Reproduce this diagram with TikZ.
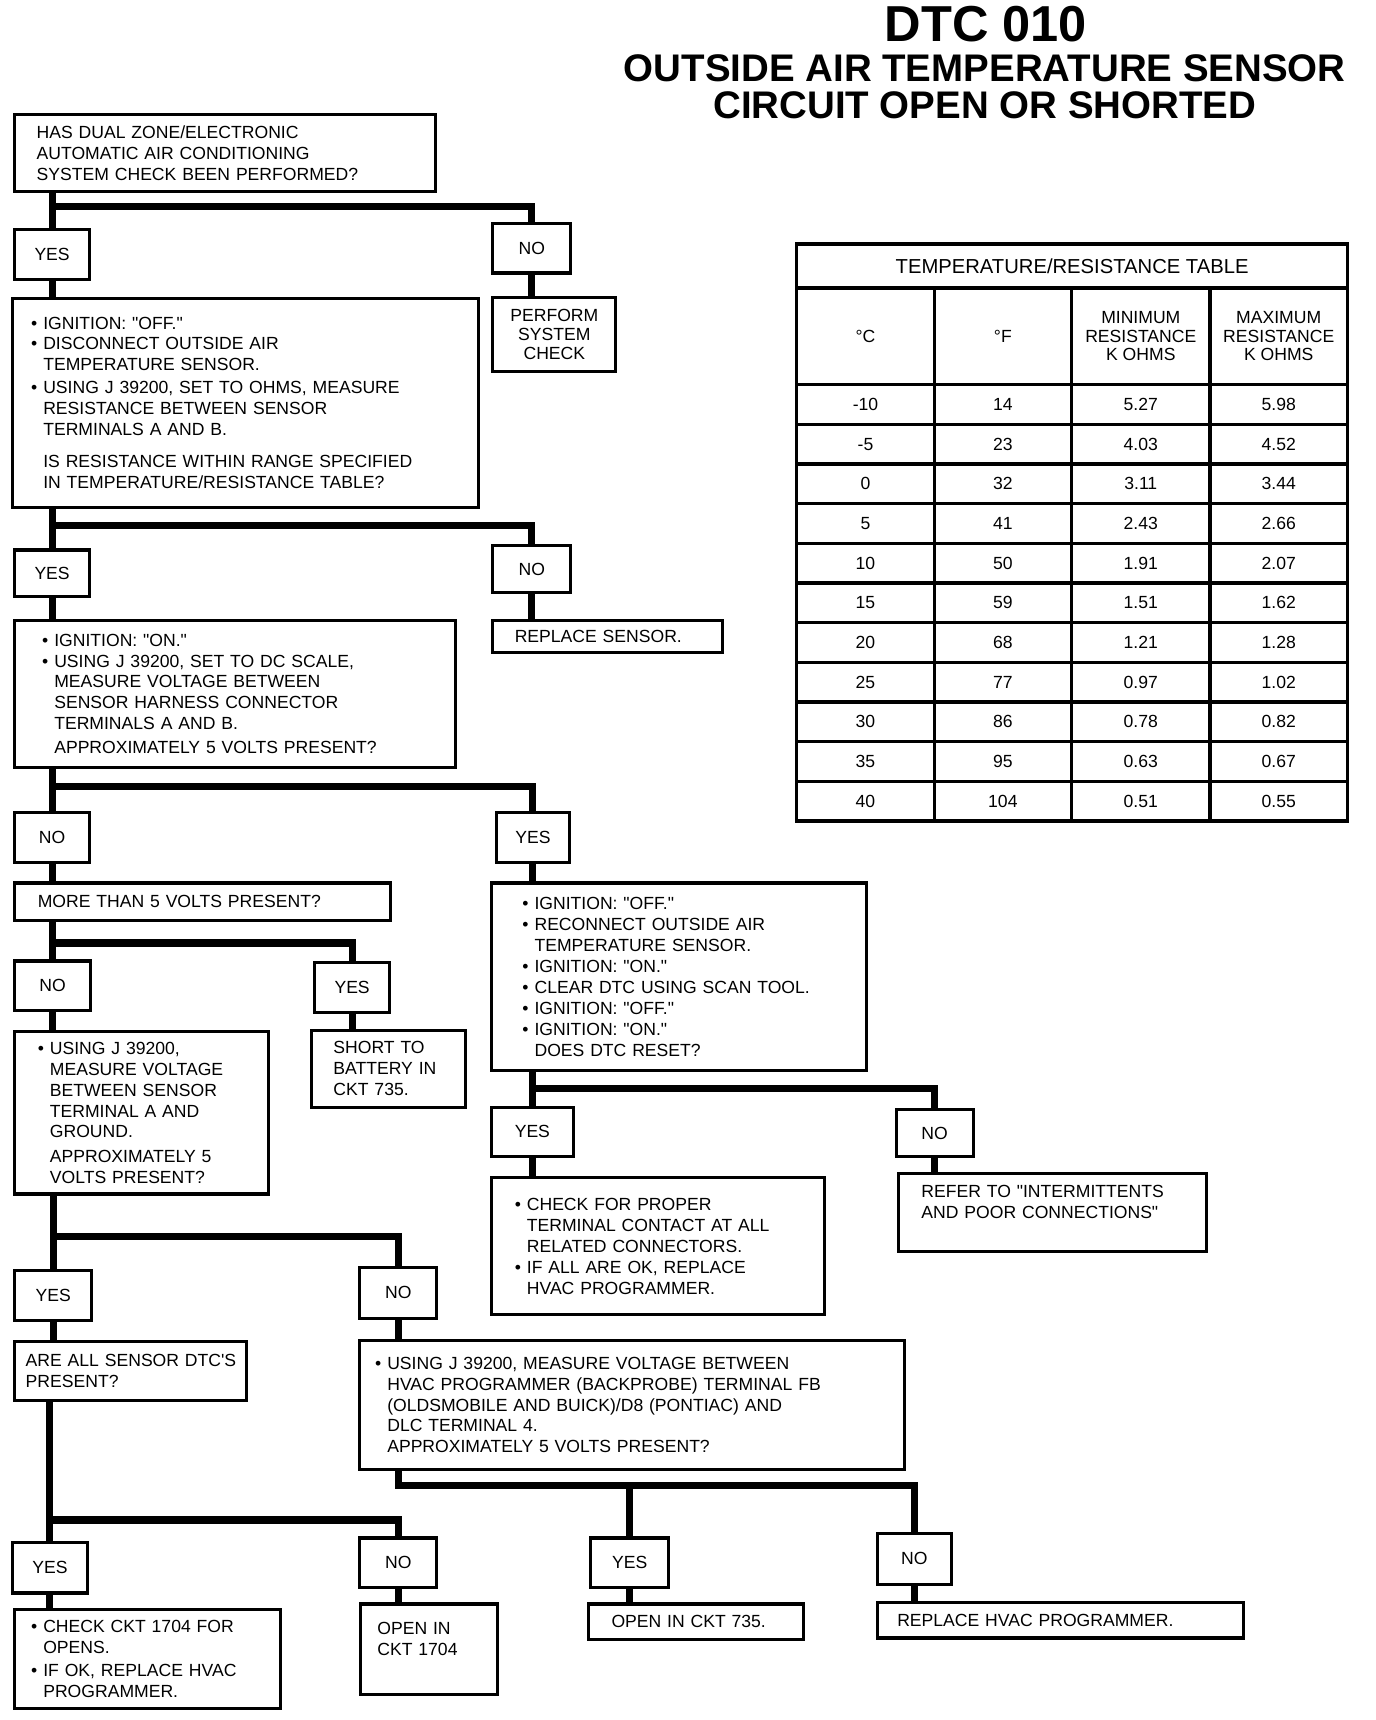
\documentclass[tikz,border=0pt]{standalone}
\usepackage{fontspec}
\setmainfont{Liberation Sans}[Ligatures=TeXOff]
\newcommand{\bul}{\makebox[5.5pt][l]{\textbullet}}
\newcommand{\ind}{\hspace*{5.5pt}}

\begin{document}
\begin{tikzpicture}[x=0.5pt,y=-0.5pt,
  box/.style={draw,line width=1.4pt,anchor=north west,inner sep=0pt,align=left,font=\fontsize{8}{9.5}\selectfont},
  yn/.style={draw,line width=1.4pt,anchor=north west,inner sep=0pt,font=\fontsize{8}{9.5}\selectfont},
  lpad/.style={execute at begin node={\leftskip=#1\relax}},
  flow/.style={line width=3.2pt,line join=miter},
  tline/.style={line width=1.5pt},
  tcell/.style={inner sep=0pt,align=center,font=\fontsize{8}{8.5}\selectfont}]
  \useasboundingbox (0,0) rectangle (1252,1565);

  \node[font=\bfseries\fontsize{23}{23}\selectfont] (dtc) at (897,22) {DTC 010};
  \node[font=\bfseries\fontsize{17.5}{17.5}\selectfont] (ttla) at (896,62) {OUTSIDE AIR TEMPERATURE SENSOR};
  \node[font=\bfseries\fontsize{17.5}{17.5}\selectfont] (ttlb) at (896,96) {CIRCUIT OPEN OR SHORTED};

  \node[box,lpad=10pt,text width=191.5pt,minimum height=35pt] (sysq) at (12,103) {HAS DUAL ZONE/ELECTRONIC\\AUTOMATIC AIR CONDITIONING\\SYSTEM CHECK BEEN PERFORMED?};
  \node[yn,minimum width=34pt,minimum height=23pt] (sysyes) at (12,207) {YES};
  \node[yn,minimum width=35.5pt,minimum height=22.5pt] (sysno) at (447,202) {NO};
  \node[yn,align=center,font=\fontsize{8}{8.5}\selectfont,minimum width=56pt,minimum height=34pt] (perform) at (447,269) {PERFORM\\SYSTEM\\CHECK};
  \node[box,lpad=8.5pt,text width=212pt,minimum height=95pt] (ohmq) at (10,270) {\bul IGNITION: "OFF."\\\bul DISCONNECT OUTSIDE AIR\\\ind TEMPERATURE SENSOR.\\[1pt]\bul USING J 39200, SET TO OHMS, MEASURE\\\ind RESISTANCE BETWEEN SENSOR\\\ind TERMINALS A AND B.\\[5pt]\ind IS RESISTANCE WITHIN RANGE SPECIFIED\\\ind IN TEMPERATURE/RESISTANCE TABLE?};
  \node[yn,minimum width=34pt,minimum height=21pt] (ohmyes) at (12,499) {YES};
  \node[yn,minimum width=35.5pt,minimum height=21.5pt] (ohmno) at (447,495) {NO};
  \node[box,lpad=10pt,text width=104.5pt,minimum height=14.5pt] (replsens) at (447,563) {REPLACE SENSOR.};
  \node[box,lpad=12.5pt,text width=200.5pt,minimum height=67pt] (voltq) at (12,563) {\bul IGNITION: "ON."\\\bul USING J 39200, SET TO DC SCALE,\\\ind MEASURE VOLTAGE BETWEEN\\\ind SENSOR HARNESS CONNECTOR\\\ind TERMINALS A AND B.\\[1.5pt]\ind APPROXIMATELY 5 VOLTS PRESENT?};
  \node[yn,minimum width=34pt,minimum height=22.5pt] (voltno) at (12,738) {NO};
  \node[yn,minimum width=33.5pt,minimum height=22.5pt] (voltyes) at (450,738) {YES};
  \node[box,lpad=10.5pt,text width=171pt,minimum height=17pt] (morev) at (12,802) {MORE THAN 5 VOLTS PRESENT?};
  \node[box,lpad=14pt,text width=170.5pt,minimum height=85.5pt] (reset) at (446,802) {\bul IGNITION: "OFF."\\\bul RECONNECT OUTSIDE AIR\\\ind TEMPERATURE SENSOR.\\\bul IGNITION: "ON."\\\bul CLEAR DTC USING SCAN TOOL.\\\bul IGNITION: "OFF."\\\bul IGNITION: "ON."\\\ind DOES DTC RESET?};
  \node[yn,minimum width=34.5pt,minimum height=22.5pt] (moreno) at (12,873) {NO};
  \node[yn,minimum width=34pt,minimum height=23pt] (moreyes) at (285,874) {YES};
  \node[box,lpad=10pt,text width=70pt,minimum height=35pt] (shortbat) at (282,936) {SHORT TO\\BATTERY IN\\CKT 735.};
  \node[box,lpad=10.5pt,text width=115.5pt,minimum height=74pt] (gndq) at (12,937) {\bul USING J 39200,\\\ind MEASURE VOLTAGE\\\ind BETWEEN SENSOR\\\ind TERMINAL A AND\\\ind GROUND.\\[1.5pt]\ind APPROXIMATELY 5\\\ind VOLTS PRESENT?};
  \node[yn,minimum width=37pt,minimum height=22.5pt] (resetyes) at (446,1006) {YES};
  \node[yn,minimum width=35pt,minimum height=21.5pt] (resetno) at (814,1008) {NO};
  \node[box,lpad=10.5pt,text width=151.5pt,minimum height=62.5pt] (contacts) at (446,1070) {\bul CHECK FOR PROPER\\\ind TERMINAL CONTACT AT ALL\\\ind RELATED CONNECTORS.\\\bul IF ALL ARE OK, REPLACE\\\ind HVAC PROGRAMMER.};
  \node[box,lpad=10.5pt,text width=140pt,minimum height=35.5pt] (intermit) at (816,1066) {REFER TO "INTERMITTENTS\\AND POOR CONNECTIONS"\\~};
  \node[yn,minimum width=35pt,minimum height=22.5pt] (gndyes) at (12,1155) {YES};
  \node[yn,minimum width=35pt,minimum height=23pt] (gndno) at (326,1152) {NO};
  \node[box,lpad=5pt,text width=105.5pt,minimum height=27pt] (alldtc) at (12,1219) {ARE ALL SENSOR DTC'S\\PRESENT?};
  \node[box,lpad=7pt,text width=248pt,minimum height=59pt] (progq) at (326,1218) {\bul USING J 39200, MEASURE VOLTAGE BETWEEN\\\ind HVAC PROGRAMMER (BACKPROBE) TERMINAL FB\\\ind (OLDSMOBILE AND BUICK)/D8 (PONTIAC) AND\\\ind DLC TERMINAL 4.\\\ind APPROXIMATELY 5 VOLTS PRESENT?};
  \node[yn,minimum width=34pt,minimum height=23pt] (allyes) at (10,1402) {YES};
  \node[yn,minimum width=35pt,minimum height=22.5pt] (allno) at (326,1398) {NO};
  \node[yn,minimum width=35.5pt,minimum height=22.5pt] (progyes) at (536,1398) {YES};
  \node[yn,minimum width=33.5pt,minimum height=23pt] (progno) at (797,1394) {NO};
  \node[box,lpad=7.5pt,text width=121pt,minimum height=45pt] (cktchk) at (12,1463) {\bul CHECK CKT 1704 FOR\\\ind OPENS.\\[1pt]\bul IF OK, REPLACE HVAC\\\ind PROGRAMMER.};
  \node[box,lpad=7.5pt,text width=62pt,minimum height=41pt] (open1704) at (327,1458) {OPEN IN\\CKT 1704\\~};
  \node[box,lpad=10.5pt,text width=98pt,minimum height=16pt] (open735) at (534,1458) {OPEN IN CKT 735.};
  \node[box,lpad=9pt,text width=166.5pt,minimum height=16pt] (replprog) at (797,1457) {REPLACE HVAC PROGRAMMER.};

  \coordinate (j1) at (0,188);
  \coordinate (j2) at (0,478);
  \coordinate (j3) at (0,716);
  \coordinate (j4) at (0,858);
  \coordinate (j5) at (0,990);
  \coordinate (j6) at (0,1125);
  \coordinate (j7) at (0,1383);
  \coordinate (j8) at (0,1352);

  \draw[flow] (sysyes.north |- sysq.south) -- (sysyes.north);
  \draw[flow] (sysyes.north |- j1) -| (sysno.north);
  \draw[flow] (sysno) -- (sysno |- perform.north);
  \draw[flow] (sysyes) -- (sysyes |- ohmq.north);

  \draw[flow] (ohmyes.north |- ohmq.south) -- (ohmyes.north);
  \draw[flow] (ohmyes.north |- j2) -| (ohmno.north);
  \draw[flow] (ohmno) -- (ohmno |- replsens.north);
  \draw[flow] (ohmyes) -- (ohmyes |- voltq.north);

  \draw[flow] (voltno.north |- voltq.south) -- (voltno.north);
  \draw[flow] (voltno.north |- j3) -| (voltyes.north);
  \draw[flow] (voltno) -- (voltno |- morev.north);
  \draw[flow] (voltyes) -- (voltyes |- reset.north);

  \draw[flow] (moreno.north |- morev.south) -- (moreno.north);
  \draw[flow] (moreno.north |- j4) -| (moreyes.north);
  \draw[flow] (moreno) -- (moreno |- gndq.north);
  \draw[flow] (moreyes) -- (moreyes |- shortbat.north);

  \draw[flow] (resetyes.north |- reset.south) -- (resetyes.north);
  \draw[flow] (resetyes.north |- j5) -| (resetno.north);
  \draw[flow] (resetyes) -- (resetyes |- contacts.north);
  \draw[flow] (resetno) -- (resetno |- intermit.north);

  \draw[flow] (gndyes.north |- gndq.south) -- (gndyes.north);
  \draw[flow] (gndyes.north |- j6) -| (gndno.north);
  \draw[flow] (gndyes) -- (gndyes |- alldtc.north);
  \draw[flow] (gndno) -- (gndno |- progq.north);

  \draw[flow] (allyes.north |- alldtc.south) -- (allyes.north);
  \draw[flow] (allyes.north |- j7) -| (allno.north);
  \draw[flow] (allyes) -- (allyes |- cktchk.north);
  \draw[flow] (allno) -- (allno |- open1704.north);

  \draw[flow] (gndno |- progq.south) -- (gndno |- j8) -| (progno.north);
  \draw[flow] (progyes.north |- j8) -- (progyes.north);
  \draw[flow] (progyes) -- (progyes |- open735.north);
  \draw[flow] (progno) -- (progno |- replprog.north);

  \draw[tline] (725,222) rectangle (1226,747);
  \draw[tline] (725,262) -- (1226,262);
  \draw[tline] (725,350) -- (1226,350);
  \foreach \r in {1,...,10}
    \draw[tline] (725,{350+36.1*\r}) -- (1226,{350+36.1*\r});
  \foreach \c in {850,975,1101}
    \draw[tline] (\c,262) -- (\c,747);
  \node[tcell,font=\fontsize{9.2}{10}\selectfont] (ttitle) at (975.5,242) {TEMPERATURE/RESISTANCE TABLE};
  \node[tcell] (hcel) at (787.5,306) {°C};
  \node[tcell] (hfah) at (912.5,306) {°F};
  \node[tcell] (hmin) at (1038,306) {MINIMUM\\RESISTANCE\\K OHMS};
  \node[tcell] (hmax) at (1163.5,306) {MAXIMUM\\RESISTANCE\\K OHMS};
  \foreach \tc/\tf/\rmin/\rmax [count=\i from 0] in {-10/14/5.27/5.98, -5/23/4.03/4.52, 0/32/3.11/3.44, 5/41/2.43/2.66, 10/50/1.91/2.07, 15/59/1.51/1.62, 20/68/1.21/1.28, 25/77/0.97/1.02, 30/86/0.78/0.82, 35/95/0.63/0.67, 40/104/0.51/0.55} {
    \node[tcell] (c\i) at (787.5,{368+36.1*\i}) {\tc};
    \node[tcell] (f\i) at (912.5,{368+36.1*\i}) {\tf};
    \node[tcell] (mn\i) at (1038,{368+36.1*\i}) {\rmin};
    \node[tcell] (mx\i) at (1163.5,{368+36.1*\i}) {\rmax};
  }
\end{tikzpicture}
\end{document}
